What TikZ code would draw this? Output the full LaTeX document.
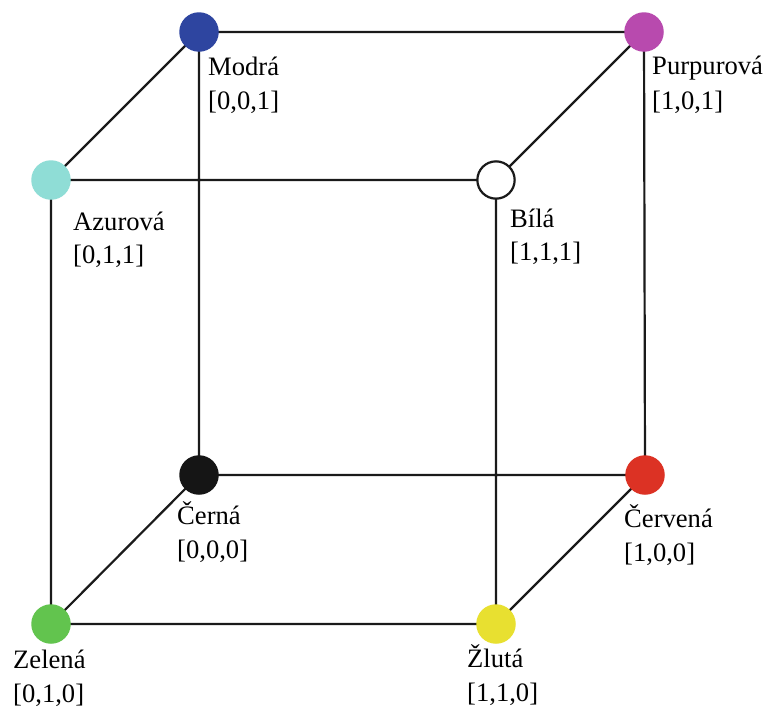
\documentclass[tikz,border=0pt]{standalone}
\usepackage{fontspec}
\setmainfont{Liberation Serif}
\definecolor{cblue}{HTML}{2E45A0}
\definecolor{cmag}{HTML}{B84AAE}
\definecolor{ccyan}{HTML}{8FDDD6}
\definecolor{cblack}{HTML}{151515}
\definecolor{cred}{HTML}{DC3224}
\definecolor{cgreen}{HTML}{62C44E}
\definecolor{cyellow}{HTML}{E8E030}
\definecolor{cline}{HTML}{1A1A1A}
\begin{document}
\begin{tikzpicture}[x=1pt,y=-1pt,
  vtx/.style={circle,minimum size=39.5pt,inner sep=0pt},
  edge/.style={draw=cline,line width=2.2pt},
  lbl/.style={anchor=base west,inner sep=0pt,font=\fontsize{26.6}{32}\selectfont,text=black}]
\useasboundingbox[fill=white] (0,0) rectangle (767,707);
% edges first
\coordinate (B) at (199,32);
\coordinate (M) at (644,32);
\coordinate (C) at (51,180);
\coordinate (W) at (496,180);
\coordinate (K) at (199,475);
\coordinate (R) at (645,475);
\coordinate (G) at (51,624);
\coordinate (Y) at (496,624);
\draw[edge] (B) -- (M) (B) -- (C) (B) -- (K) (M) -- (W) (M) -- (R)
  (C) -- (W) (C) -- (G) (W) -- (Y) (K) -- (R) (K) -- (G) (R) -- (Y) (G) -- (Y);
% vertices
\node[vtx,fill=cblue] (nB) at (B) {};
\node[vtx,fill=cmag] (nM) at (M) {};
\node[vtx,fill=ccyan] (nC) at (C) {};
\node[vtx,fill=white,draw=cline,line width=2.2pt,minimum size=37.3pt] (nW) at (W) {};
\node[vtx,fill=cblack] (nK) at (K) {};
\node[vtx,fill=cred] (nR) at (R) {};
\node[vtx,fill=cgreen] (nG) at (G) {};
\node[vtx,fill=cyellow] (nY) at (Y) {};
% labels
\node[lbl] (tB1) at (208,75) {Modrá};
\node[lbl] (tB2) at (208,109) {[0,0,1]};
\node[lbl] (tM1) at (652,74) {Purpurová};
\node[lbl] (tM2) at (652,109) {[1,0,1]};
\node[lbl] (tC1) at (73,230) {Azurová};
\node[lbl] (tC2) at (73,263) {[0,1,1]};
\node[lbl] (tW1) at (510,227) {Bílá};
\node[lbl] (tW2) at (510,260) {[1,1,1]};
\node[lbl] (tK1) at (177,524) {Černá};
\node[lbl] (tK2) at (177,558) {[0,0,0]};
\node[lbl] (tR1) at (624,527) {Červená};
\node[lbl] (tR2) at (624,561) {[1,0,0]};
\node[lbl] (tG1) at (13,668) {Zelená};
\node[lbl] (tG2) at (13,702) {[0,1,0]};
\node[lbl] (tY1) at (467,667) {Žlutá};
\node[lbl] (tY2) at (467,701) {[1,1,0]};
\end{tikzpicture}
\end{document}
